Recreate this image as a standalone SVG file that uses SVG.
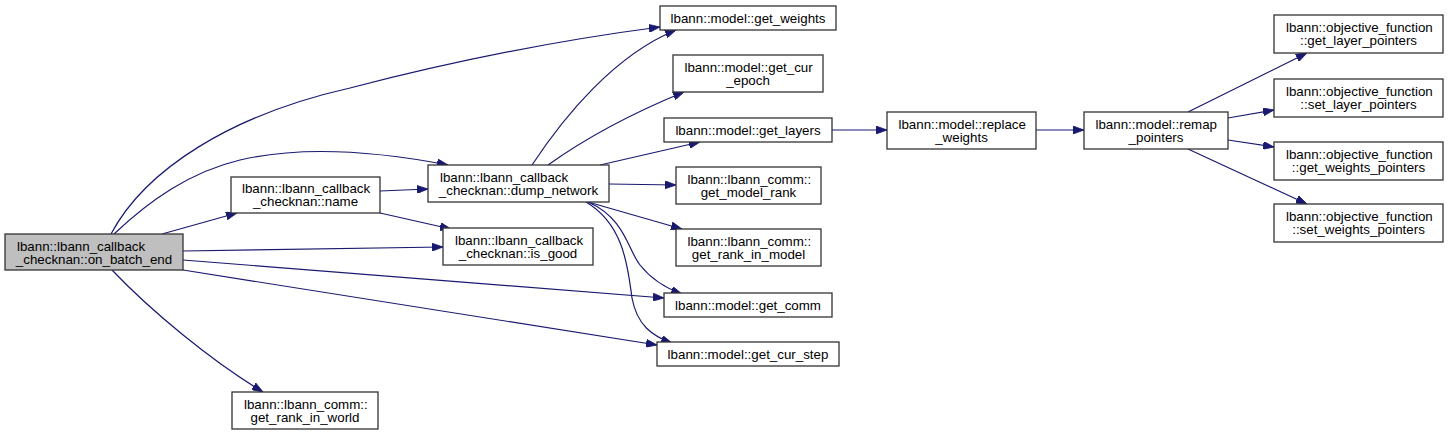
<svg xmlns="http://www.w3.org/2000/svg" width="1449" height="436" viewBox="0 0 1449 436">
<defs>
<marker id="arr" viewBox="0 0 11 8" refX="11" refY="4" markerUnits="userSpaceOnUse" markerWidth="11" markerHeight="8" orient="auto">
<path d="M0,0 L11,4 L0,8 z" fill="#191970" stroke="#191970" stroke-width="0.8"/>
</marker>
</defs>
<style>
.n rect{fill:#fff;stroke:#333;stroke-width:1.3}
.n text{font-family:"Liberation Sans",Arial,sans-serif;font-size:13.33px;fill:#000}
.c{text-anchor:middle}
#edges path{fill:none;stroke:#191970;stroke-width:1.2;marker-end:url(#arr)}
</style>
<rect width="1449" height="436" fill="#fff"/>
<g id="edges">
<path d="M111,234 C145,170 230,115 350,88 C450,62 560,40 660,27"/>
<path d="M114,234 C150,200 190,172 240,160 C300,146 370,150 448,165"/>
<path d="M162,234 L237,213"/>
<path d="M380,191 L428,189"/>
<path d="M380,213 L451,229"/>
<path d="M183,251 L443,247"/>
<path d="M183,260 L664,298"/>
<path d="M183,270 L657,345"/>
<path d="M112,270 C150,310 210,360 263,392"/>
<path d="M532,165 C565,115 615,55 676,30"/>
<path d="M548,165 C590,135 640,110 684,92"/>
<path d="M600,165 L700,142"/>
<path d="M609,184 L676,185"/>
<path d="M588,202 L682,229"/>
<path d="M588,202 C625,218 628,250 640,265 C652,280 665,288 682,294"/>
<path d="M586,202 C625,225 628,270 632,298 C637,325 652,336 672,343"/>
<path d="M832,130 L887,130"/>
<path d="M1036,130 L1084,130"/>
<path d="M1188,112 L1307,53"/>
<path d="M1228,118 L1274,110"/>
<path d="M1228,140 L1274,147"/>
<path d="M1188,149 L1307,204"/>
</g>
<g id="on_batch_end" class="n"><rect x="5" y="234" width="178" height="36" style="fill:#bfbfbf"/><text x="17" y="250.5">lbann::lbann_callback</text><text class="c" x="94" y="263.5">_checknan::on_batch_end</text></g>
<g id="name" class="n"><rect x="231" y="177" width="149" height="36"/><text x="242" y="193">lbann::lbann_callback</text><text class="c" x="305.5" y="206">_checknan::name</text></g>
<g id="dump_network" class="n"><rect x="428" y="165" width="181" height="37"/><text x="440" y="181.5">lbann::lbann_callback</text><text class="c" x="518.5" y="194.5">_checknan::dump_network</text></g>
<g id="is_good" class="n"><rect x="443" y="228" width="150" height="37"/><text x="455" y="244.5">lbann::lbann_callback</text><text class="c" x="518" y="257.5">_checknan::is_good</text></g>
<g id="get_weights" class="n"><rect x="660" y="6" width="176" height="24"/><text class="c" x="748" y="22.5">lbann::model::get_weights</text></g>
<g id="get_cur_epoch" class="n"><rect x="673" y="55" width="150" height="37"/><text x="684.5" y="71.5">lbann::model::get_cur</text><text class="c" x="748" y="84.5">_epoch</text></g>
<g id="get_layers" class="n"><rect x="664" y="118" width="168" height="24"/><text class="c" x="748" y="134.5">lbann::model::get_layers</text></g>
<g id="get_model_rank" class="n"><rect x="676" y="167" width="145" height="37"/><text x="687.5" y="183.5">lbann::lbann_comm::</text><text class="c" x="748.5" y="196.5">get_model_rank</text></g>
<g id="get_rank_in_model" class="n"><rect x="676" y="229" width="145" height="37"/><text x="687.5" y="245.5">lbann::lbann_comm::</text><text class="c" x="748.5" y="258.5">get_rank_in_model</text></g>
<g id="get_comm" class="n"><rect x="664" y="293" width="168" height="24"/><text class="c" x="748" y="309.5">lbann::model::get_comm</text></g>
<g id="get_cur_step" class="n"><rect x="657" y="342" width="182" height="24"/><text class="c" x="748" y="358.5">lbann::model::get_cur_step</text></g>
<g id="replace_weights" class="n"><rect x="887" y="112" width="149" height="37"/><text x="898.5" y="128.5">lbann::model::replace</text><text class="c" x="961.5" y="141.5">_weights</text></g>
<g id="remap_pointers" class="n"><rect x="1084" y="112" width="144" height="37"/><text x="1095.5" y="128.5">lbann::model::remap</text><text class="c" x="1156" y="141.5">_pointers</text></g>
<g id="get_layer_pointers" class="n"><rect x="1274" y="15" width="169" height="38"/><text x="1286" y="32">lbann::objective_function</text><text class="c" x="1358.5" y="45">::get_layer_pointers</text></g>
<g id="set_layer_pointers" class="n"><rect x="1274" y="79" width="169" height="38"/><text x="1286" y="96">lbann::objective_function</text><text class="c" x="1358.5" y="109">::set_layer_pointers</text></g>
<g id="get_weights_pointers" class="n"><rect x="1274" y="142" width="169" height="38"/><text x="1286" y="159">lbann::objective_function</text><text class="c" x="1358.5" y="172">::get_weights_pointers</text></g>
<g id="set_weights_pointers" class="n"><rect x="1274" y="204" width="169" height="38"/><text x="1286" y="221">lbann::objective_function</text><text class="c" x="1358.5" y="234">::set_weights_pointers</text></g>
<g id="get_rank_in_world" class="n"><rect x="232" y="392" width="146" height="37"/><text x="244" y="408.5">lbann::lbann_comm::</text><text class="c" x="305" y="421.5">get_rank_in_world</text></g>
</svg>
